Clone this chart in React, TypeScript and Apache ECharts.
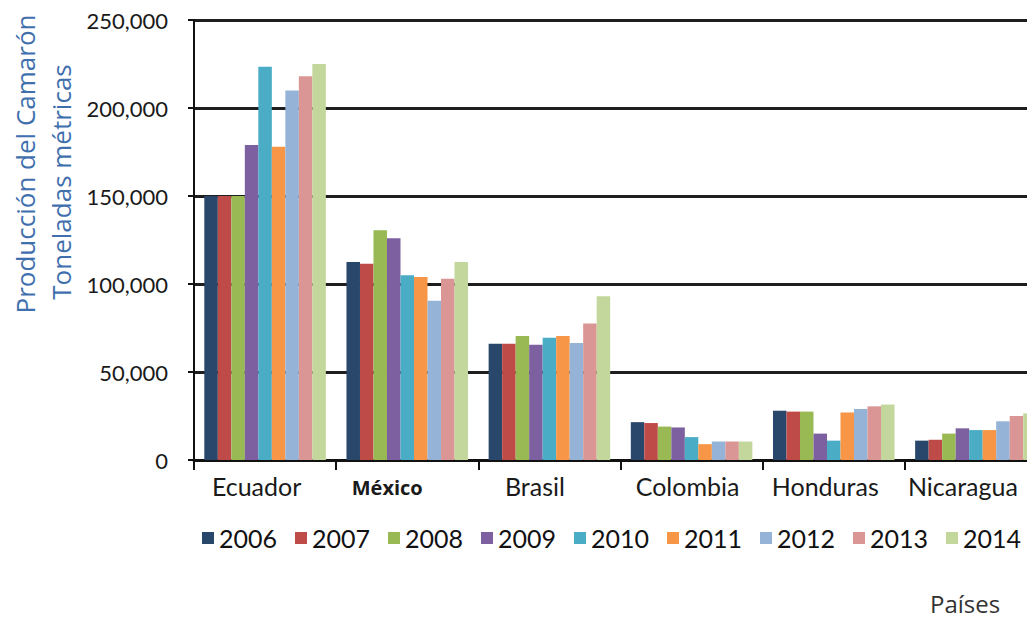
import React, { useEffect, useRef } from "react";
import * as echarts from "echarts";

// Countries on the category axis
const countries = ["Ecuador", "México", "Brasil", "Colombia", "Honduras", "Nicaragua"];

// Shrimp production per year (metric tonnes), one value per country
const years = ["2006", "2007", "2008", "2009", "2010", "2011", "2012", "2013", "2014"];
const prod2006 = [150000, 112500, 66000, 21500, 28000, 11000];
const prod2007 = [150000, 111500, 66000, 21000, 27500, 11500];
const prod2008 = [150000, 130500, 70500, 19000, 27500, 15000];
const prod2009 = [179000, 126000, 65500, 18500, 15000, 18000];
const prod2010 = [223500, 105000, 69500, 13000, 11000, 17000];
const prod2011 = [178000, 104000, 70500, 9000, 27000, 17000];
const prod2012 = [210000, 90500, 66500, 10500, 29000, 22000];
const prod2013 = [218000, 103000, 77500, 10500, 30500, 25000];
const prod2014 = [225000, 112500, 93000, 10500, 31500, 26500];
const seriesValues = [prod2006, prod2007, prod2008, prod2009, prod2010, prod2011, prod2012, prod2013, prod2014];

// Value axis ticks
const yTicks = [0, 50000, 100000, 150000, 200000, 250000];

const yearColors = [
  "#28476a", "#be4b48", "#98b954", "#7d60a0", "#4aacc5",
  "#f79646", "#95b3d7", "#da9694", "#c3d69b",
];

// Per-label rich styles (label key -> rich style name)
const labelKeys = ["ec", "mx", "br", "co", "ho", "ni"];

export default function App() {
  const ref = useRef<HTMLDivElement>(null);

  useEffect(() => {
    if (!ref.current) return;
    const chart = echarts.init(ref.current, null, { renderer: "svg" });

    const baseLabel = {
      fontFamily: "Lato",
      fontSize: 25,
      lineHeight: 25,
      color: "#1a1a1a",
    };

    const option = {
      animation: false,
      backgroundColor: "#ffffff",
      grid: { left: 194, right: 3, top: 20, bottom: 158, containLabel: false },
      legend: {
        left: 202,
        top: 525,
        padding: 0,
        itemGap: 18,
        itemWidth: 12,
        itemHeight: 12,
        icon: "rect",
        data: years,
        textStyle: {
          fontFamily: "Lato",
          fontSize: 25,
          lineHeight: 26,
          width: 58,
          color: "#111111",
        },
      },
      xAxis: {
        type: "category",
        data: countries,
        axisLine: { show: true, lineStyle: { color: "#111111", width: 3 } },
        axisTick: { show: true, length: 10, lineStyle: { color: "#111111", width: 2 } },
        axisLabel: {
          margin: 13,
          interval: 0,
          formatter: (v: string) => `{${labelKeys[countries.indexOf(v)]}|${v}}`,
          rich: {
            ec: { ...baseLabel, padding: [0, 17, 0, 0] },
            mx: {
              fontFamily: "Open Sans",
              fontWeight: "bold",
              fontSize: 20,
              lineHeight: 25,
              color: "#1a1a1a",
              padding: [4, 40, 0, 0],
            },
            br: { ...baseLabel, padding: [0, 29, 0, 0] },
            co: { ...baseLabel, padding: [0, 8, 0, 0] },
            ho: { ...baseLabel, padding: [0, 17, 0, 0] },
            ni: { ...baseLabel, padding: [0, 26, 0, 0] },
          },
        },
      },
      yAxis: {
        type: "value",
        min: yTicks[0],
        max: yTicks[yTicks.length - 1],
        interval: yTicks[1] - yTicks[0],
        axisLine: { show: true, lineStyle: { color: "#111111", width: 2 } },
        axisTick: { show: true, length: 6, lineStyle: { color: "#111111", width: 2 } },
        axisLabel: {
          margin: 26,
          fontFamily: "Lato",
          fontSize: 22,
          color: "#1a1a1a",
          formatter: (v: number) => v.toLocaleString("en-US"),
        },
        splitLine: { show: true, lineStyle: { color: "#1e1e1e", width: 3 } },
      },
      series: years.map((y, i) => ({
        name: y,
        type: "bar",
        data: seriesValues[i],
        barGap: "0%",
        barCategoryGap: "14.5%",
        itemStyle: { color: yearColors[i] },
      })),
      graphic: [
        {
          type: "text",
          x: 25,
          y: 164,
          rotation: Math.PI / 2,
          style: {
            text: "Producción del Camarón",
            fontFamily: "Open Sans",
            fontSize: 26,
            fill: "#3f6fad",
            align: "center",
            verticalAlign: "middle",
          },
        },
        {
          type: "text",
          x: 61,
          y: 182,
          rotation: Math.PI / 2,
          style: {
            text: "Toneladas métricas",
            fontFamily: "Open Sans",
            fontSize: 26,
            fill: "#3f6fad",
            align: "center",
            verticalAlign: "middle",
          },
        },
        {
          type: "text",
          x: 930,
          y: 603,
          style: {
            text: "Países",
            fontFamily: "Open Sans",
            fontSize: 24,
            fill: "#333333",
            align: "left",
            verticalAlign: "middle",
          },
        },
      ],
    };

    chart.setOption(option as any);
    return () => chart.dispose();
  }, []);

  return (
    <div
      style={{
        position: "absolute",
        left: 0,
        top: 0,
        width: 1027,
        height: 618,
        overflow: "hidden",
        background: "#ffffff",
      }}
    >
      <div ref={ref} style={{ width: 1050, height: 618 }} />
    </div>
  );
}
